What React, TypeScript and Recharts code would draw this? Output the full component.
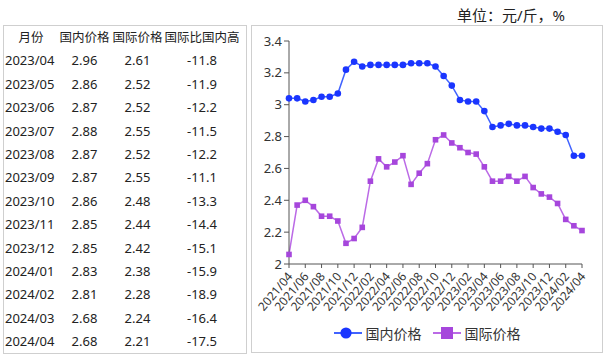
import { LineChart, Line, XAxis, YAxis, Legend } from "recharts";

const months = [
  "2021/04", "2021/05", "2021/06", "2021/07", "2021/08", "2021/09", "2021/10", "2021/11", "2021/12",
  "2022/01", "2022/02", "2022/03", "2022/04", "2022/05", "2022/06", "2022/07", "2022/08", "2022/09",
  "2022/10", "2022/11", "2022/12", "2023/01", "2023/02", "2023/03", "2023/04", "2023/05", "2023/06",
  "2023/07", "2023/08", "2023/09", "2023/10", "2023/11", "2023/12", "2024/01", "2024/02", "2024/03",
  "2024/04",
];

// 国内价格
const domesticPrice = [
  3.04, 3.04, 3.02, 3.03, 3.05, 3.05, 3.07, 3.22, 3.27,
  3.24, 3.25, 3.25, 3.25, 3.25, 3.25, 3.26, 3.26, 3.26,
  3.24, 3.18, 3.12, 3.03, 3.02, 3.02, 2.96, 2.86, 2.87,
  2.88, 2.87, 2.87, 2.86, 2.85, 2.85, 2.83, 2.81, 2.68,
  2.68,
];

// 国际价格
const intlPrice = [
  2.06, 2.37, 2.4, 2.36, 2.3, 2.3, 2.27, 2.13, 2.16,
  2.23, 2.52, 2.66, 2.61, 2.64, 2.68, 2.5, 2.57, 2.63,
  2.78, 2.81, 2.76, 2.73, 2.7, 2.69, 2.61, 2.52, 2.52,
  2.55, 2.52, 2.55, 2.48, 2.44, 2.42, 2.38, 2.28, 2.24,
  2.21,
];

const yTicks = [2, 2.2, 2.4, 2.6, 2.8, 3, 3.2, 3.4];

const tableHeader = ["月份", "国内价格", "国际价格", "国际比国内高"];
const tableMonths = months.slice(24);
const tableDomestic = domesticPrice.slice(24);
const tableIntl = intlPrice.slice(24);
const intlOverDomestic = [-11.8, -11.9, -12.2, -11.5, -12.2, -11.1, -13.3, -14.4, -15.1, -15.9, -18.9, -16.4, -17.5];

const BLUE_DOT = "#1a35ff";
const BLUE_LINE = "#4163ff";
const PURPLE_DOT = "#a646dc";
const PURPLE_LINE = "#bb6ae6";
const FONT = '"Noto Sans", "Noto Sans CJK SC", sans-serif';

const data = months.map((m, i) => ({ month: m, domestic: domesticPrice[i], intl: intlPrice[i] }));

const colW = [54, 53, 53, 76];

function SlantTick({ x, y, payload }: any) {
  return (
    <g transform={`translate(${x + 1},${y + 4})`}>
      <text x={0} y={0} dy="0.35em" textAnchor="end" transform="rotate(-50)" fontSize={12} fill="#333" fontFamily={FONT}>
        {payload.value}
      </text>
    </g>
  );
}

function CircleDot({ cx, cy }: any) {
  return <circle cx={cx} cy={cy} r={3.3} fill={BLUE_DOT} />;
}

function SquareDot({ cx, cy }: any) {
  return <rect x={cx - 2.8} y={cy - 2.8} width={5.6} height={5.6} fill={PURPLE_DOT} />;
}

function LegendBox() {
  return (
    <div style={{ width: 352, display: "flex", justifyContent: "center", alignItems: "center", height: 24, fontFamily: FONT, fontSize: 14, color: "#333" }}>
      <svg width={28} height={14} style={{ marginRight: 4 }}>
        <line x1={0} y1={7} x2={28} y2={7} stroke={BLUE_LINE} strokeWidth={2} />
        <circle cx={12} cy={7} r={5.6} fill={BLUE_DOT} />
      </svg>
      <span style={{ marginRight: 11 }}>国内价格</span>
      <svg width={28} height={14} style={{ marginRight: 4 }}>
        <line x1={0} y1={7} x2={28} y2={7} stroke={PURPLE_LINE} strokeWidth={2} />
        <rect x={8} y={1} width={12} height={12} fill={PURPLE_DOT} />
      </svg>
      <span>国际价格</span>
    </div>
  );
}

export default function App() {
  return (
    <div style={{ position: "absolute", left: 0, top: 0, width: 609, height: 359, background: "#fff", fontFamily: FONT, color: "#222" }}>
      <div style={{ position: "absolute", left: 457, top: 4, fontSize: 15, color: "#222", whiteSpace: "nowrap" }}>单位：元/斤，%</div>

      <div style={{ position: "absolute", left: 3, top: 25, width: 242, height: 327, border: "1px solid #cfcfcf", fontSize: 13 }}>
        {[tableHeader, ...tableMonths.map((m, i) => [m, tableDomestic[i].toFixed(2), tableIntl[i].toFixed(2), intlOverDomestic[i].toFixed(1)])].map((row, r) => (
          <div key={r} style={{ display: "flex", height: 23.4, alignItems: "center", fontSize: r === 0 ? 12.5 : 13 }}>
            {row.map((cell, c) => (
              <div
                key={c}
                style={{
                  width: colW[c],
                  textAlign: c === 0 && r > 0 ? "left" : "center",
                  paddingLeft: c === 0 && r > 0 ? 1 : 0,
                  boxSizing: "border-box",
                  whiteSpace: "nowrap",
                  lineHeight: "23.4px",
                }}
              >
                {cell}
              </div>
            ))}
          </div>
        ))}
      </div>

      <div style={{ position: "absolute", left: 251, top: 25, width: 350, height: 326, border: "1px solid #cfcfcf" }}>
        <div style={{ position: "absolute", left: -1, top: -1 }}>
          <LineChart width={352} height={328} data={data} margin={{ top: 16, right: 21, bottom: 8, left: 0 }}>
            <XAxis
              dataKey="month"
              interval={1}
              height={57}
              tick={<SlantTick />}
              tickSize={4}
              tickLine={{ stroke: "#555" }}
              axisLine={{ stroke: "#555" }}
            />
            <YAxis
              width={38}
              domain={[2, 3.4]}
              ticks={yTicks}
              tickSize={5}
              tick={{ fontSize: 13, fill: "#333", fontFamily: FONT }}
              tickLine={{ stroke: "#555" }}
              axisLine={{ stroke: "#555" }}
            />
            <Legend verticalAlign="bottom" height={24} wrapperStyle={{ left: 0, width: 352 }} content={<LegendBox />} />
            <Line dataKey="domestic" name="国内价格" stroke={BLUE_LINE} strokeWidth={1.5} dot={<CircleDot />} isAnimationActive={false} />
            <Line dataKey="intl" name="国际价格" stroke={PURPLE_LINE} strokeWidth={1.5} dot={<SquareDot />} isAnimationActive={false} />
          </LineChart>
        </div>
      </div>
    </div>
  );
}
